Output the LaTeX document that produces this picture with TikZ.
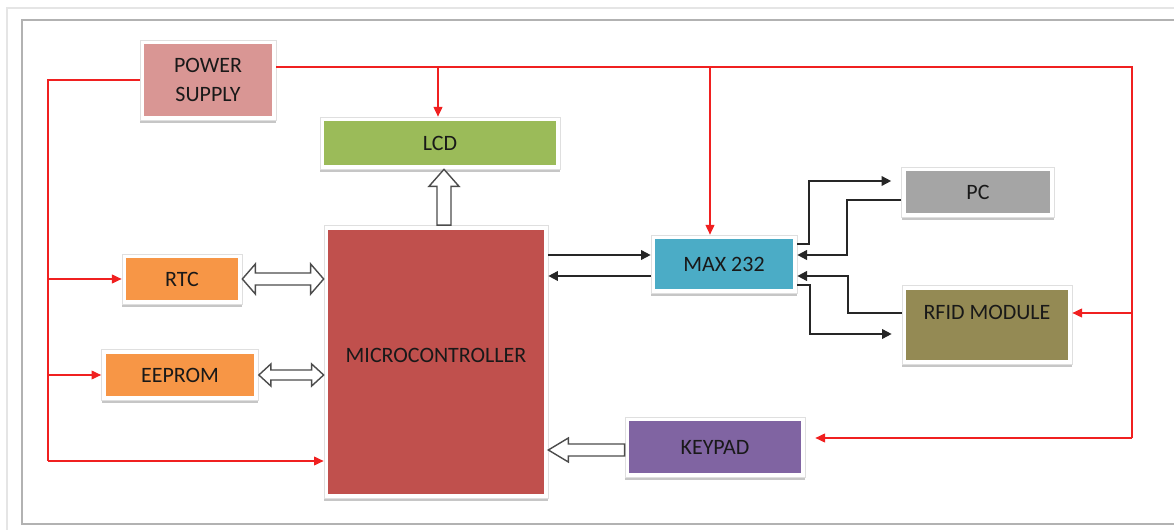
\documentclass[tikz,border=0pt]{standalone}
\usepackage{fontspec}
\setmainfont{Carlito}
\usepackage{xcolor}
\usepackage{tikz}
\usetikzlibrary{arrows.meta,positioning,calc,shadows}

\definecolor{pwrpink}{HTML}{D99694}
\definecolor{lcdgreen}{HTML}{9BBB59}
\definecolor{mcured}{HTML}{C0504D}
\definecolor{chiporange}{HTML}{F79646}
\definecolor{maxblue}{HTML}{4BACC6}
\definecolor{pcgray}{HTML}{A5A5A5}
\definecolor{rfidolive}{HTML}{948A54}
\definecolor{keypurple}{HTML}{8064A2}
\definecolor{wirered}{HTML}{F02020}

\begin{document}
\begin{tikzpicture}[x=0.02cm, y=-0.02cm,
    blk/.style={draw=gray!25, fill=white, inner sep=0pt, align=center, text=black!90,
      font=\fontsize{12.5}{14}\selectfont,
      path picture={\fill[#1] ([shift={(2.3pt,2.3pt)}]path picture bounding box.south west) rectangle ([shift={(-2.3pt,-2.3pt)}]path picture bounding box.north east);},
      drop shadow={shadow xshift=0pt, shadow yshift=-1.6pt, fill=gray!45, opacity=1}},
    pwr/.style={draw=wirered, line width=0.8pt, -{Triangle[length=5.5pt,width=5pt]}},
    sig/.style={draw=black!85, line width=1pt, -{Triangle[length=5.5pt,width=5.5pt]}},
    hollow/.style={draw=gray!60!black, fill=white, line width=0.8pt, line join=miter}
  ]
    \useasboundingbox (0,0) rectangle (1174,530);
    % frame
    \draw[gray!20, line width=0.6pt] (7,530) -- (7,8) -- (1174,8);
    \draw[gray!60, line width=0.6pt] (1174,20) -- (22,20) -- (22,524) -- (1174,524);

    \node[blk=pwrpink, minimum width=2.72cm, minimum height=1.6cm] (power) at (208,80) {POWER\\[3pt]SUPPLY};
    \node[blk=lcdgreen, minimum width=4.8cm, minimum height=1.04cm] (lcd) at (440,143) {LCD};
    \node[blk=mcured, minimum width=4.48cm, minimum height=5.46cm, text depth=0.28cm] (mcu) at (436,362) {MICROCONTROLLER};
    \node[blk=chiporange, minimum width=2.4cm, minimum height=1cm] (rtc) at (182,279) {RTC};
    \node[blk=chiporange, minimum width=3.14cm, minimum height=1.02cm] (eeprom) at (180,375) {EEPROM};
    \node[blk=maxblue, minimum width=2.92cm, minimum height=1.16cm] (max) at (724,264) {MAX 232};
    \node[blk=pcgray, minimum width=3.06cm, minimum height=1cm] (pc) at (978,192) {PC};
    \node[blk=rfidolive, minimum width=3.4cm, minimum height=1.58cm, text depth=0.52cm] (rfid) at (987,325) {RFID MODULE};
    \node[blk=keypurple, minimum width=3.6cm, minimum height=1.2cm] (keypad) at (715,447) {KEYPAD};

    % power rails
    \coordinate (lft) at (48,461);
    \coordinate (rgt) at (1132,438);
    \coordinate (top) at ($(power.east)+(0,-13)$);
    \draw[pwr, -] (power.west) -| (lft);
    \draw[pwr] (lft) -- (mcu.west |- lft);
    \draw[pwr] (rtc.west -| lft) -- (rtc.west);
    \draw[pwr] (eeprom.west -| lft) -- (eeprom.west);
    \draw[pwr, -] (top) -| (rgt);
    \draw[pwr, shorten >=2mm] (rgt) -- (keypad.east |- rgt);
    \coordinate (rf) at ($(rfid.east)+(0,-12)$);
    \draw[pwr] (rf -| rgt) -- (rf);
    \coordinate (ld) at ($(lcd.north)+(-2,0)$);
    \draw[pwr] (ld |- top) -- (ld);
    \coordinate (mx) at ($(max.north)+(-14,0)$);
    \draw[pwr] (mx |- top) -- (mx);

    % serial lines
    \draw[sig] ($(mcu.east |- max.west)+(0,-9)$) -- ($(max.west)+(0,-9)$);
    \draw[sig] ($(max.west)+(0,12)$) -- ($(mcu.east |- max.west)+(0,12)$);
    \draw[sig, shorten >=2mm] ($(max.east)+(0,-20)$) -- ++(12,0) |- ($(pc.west)+(0,-11)$);
    \draw[sig] ($(pc.west)+(0,8)$) -- ++(-54,0) |- ($(max.east)+(0,-9)$);
    \draw[sig] (rf -| rfid.west) -- ++(-54,0) |- ($(max.east)+(0,12)$);
    \draw[sig, shorten >=2mm] ($(max.east)+(0,21)$) -- ++(13,0) |- ($(rfid.west)+(0,9)$);

    % bus arrows
    \coordinate (up) at ($(lcd.south)+(4,0)$);
    \draw[hollow] (up) -- ++(15,17) -- ++(-8,0) -- ($(up |- mcu.north)+(7,0)$) -- ++(-14,0) -- ($(up)+(-7,17)$) -- ++(-8,0) -- cycle;
    \draw[hollow] (rtc.east) -- ++(13,-15) -- ++(0,9) -- ($(mcu.west |- rtc.east)+(-13,-6)$) -- ++(0,-9) -- (mcu.west |- rtc.east) -- ++(-13,15) -- ++(0,-9) -- ($(rtc.east)+(13,6)$) -- ++(0,9) -- cycle;
    \draw[hollow] (eeprom.east) -- ++(12,-11) -- ++(0,6) -- ($(mcu.west |- eeprom.east)+(-12,-5)$) -- ++(0,-6) -- (mcu.west |- eeprom.east) -- ++(-12,11) -- ++(0,-6) -- ($(eeprom.east)+(12,5)$) -- ++(0,6) -- cycle;
    \draw[hollow] ($(mcu.east |- keypad.west)+(0,3)$) -- ++(20,-12) -- ++(0,6) -- ($(keypad.west)+(0,-3)$) -- ++(0,12) -- ($(mcu.east |- keypad.west)+(20,9)$) -- ++(0,6) -- cycle;
  \end{tikzpicture}
\end{document}
